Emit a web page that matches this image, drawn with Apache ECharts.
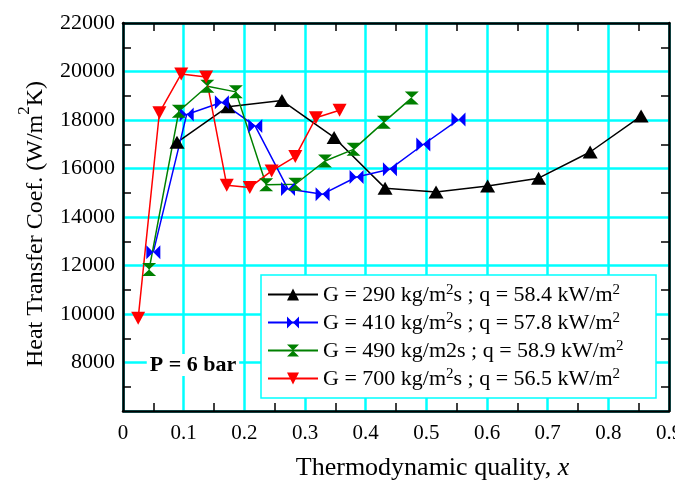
<!DOCTYPE html>
<html>
<head>
<meta charset="utf-8">
<script src="https://cdn.jsdelivr.net/npm/echarts@6/dist/echarts.min.js"></script>
<style>
  html, body { margin: 0; padding: 0; background: #fff; }
  #main { width: 675px; height: 484px; }
</style>
</head>
<body>
<div id="main"></div>
<script>
// quality x and heat transfer coefficient
var blackX = [0.089, 0.173, 0.262, 0.348, 0.432, 0.516, 0.601, 0.685, 0.770, 0.854];
var blackY = [17080, 18550, 18800, 17280, 15190, 15030, 15280, 15600, 16680, 18160];
var blueX = [0.050, 0.105, 0.163, 0.218, 0.272, 0.329, 0.385, 0.440, 0.495, 0.553];
var blueY = [12550, 18230, 18730, 17750, 15150, 14940, 15650, 15970, 16990, 18020];
var greenX = [0.043, 0.092, 0.139, 0.186, 0.236, 0.284, 0.333, 0.380, 0.430, 0.476];
var greenY = [11830, 18360, 19390, 19160, 15330, 15350, 16310, 16790, 17910, 18910];
var redX = [0.025, 0.060, 0.096, 0.137, 0.171, 0.209, 0.245, 0.284, 0.318, 0.357];
var redY = [9820, 18300, 19900, 19770, 15310, 15220, 15900, 16490, 18090, 18400];

var seriesNames = [
  'G = 290 kg/m2s ; q = 58.4 kW/m2',
  'G = 410 kg/m2s ; q = 57.8 kW/m2',
  'G = 490 kg/m2s ; q = 58.9 kW/m2 ',
  'G = 700 kg/m2s ; q = 56.5 kW/m2'
];
var legendLabels = [
  '{n|G = 290 kg/m}{s|2}{n|s ; q = 58.4 kW/m}{s|2}',
  '{n|G = 410 kg/m}{s|2}{n|s ; q = 57.8 kW/m}{s|2}',
  '{n|G = 490 kg/m2s ; q = 58.9 kW/m}{s|2}',
  '{n|G = 700 kg/m}{s|2}{n|s ; q = 56.5 kW/m}{s|2}'
];
var xTicks = { min: 0, max: 0.9, step: 0.1 };
var yTicks = { min: 6000, max: 22000, step: 2000 };

function pairs(xs, ys) {
  return xs.map(function (x, i) { return [x, ys[i]]; });
}

var font = 'Liberation Serif, Times New Roman, serif';
var bowtie = 'path://M0,0 L5,5 L0,10 Z M10,0 L5,5 L10,10 Z';
var hourglass = 'path://M0,0 L10,0 L5,5 L10,10 L0,10 L5,5 Z';
var downTri = 'path://M0,0 L10,0 L5,9 Z';

var myChart = echarts.init(document.getElementById('main'));

function frameAxis(pos, isX) {
  var ax = {
    type: 'value',
    position: pos,
    min: isX ? xTicks.min : yTicks.min,
    max: isX ? xTicks.max : yTicks.max,
    interval: isX ? xTicks.step : yTicks.step,
    axisLine: { show: true, onZero: false, lineStyle: { color: '#000', width: 2.5 } },
    axisTick: { show: false, inside: true },
    minorTick: { show: true, splitNumber: 2, length: 8, lineStyle: { color: '#000', width: 1.5 } },
    axisLabel: { show: false },
    splitLine: { show: false },
    minorSplitLine: { show: false }
  };
  return ax;
}

var xBottom = frameAxis('bottom', true);
xBottom.axisLabel = {
  show: true, color: '#000', fontFamily: font, fontSize: 21, margin: 12,
  formatter: function (v) { return v === 0 ? '0' : v.toFixed(1); }
};
xBottom.splitLine = { show: true, lineStyle: { color: '#00ffff', width: 2.5 } };
xBottom.name = '{n|Thermodynamic quality, }{i|x}';
xBottom.nameLocation = 'middle';
xBottom.nameGap = 44;
xBottom.nameTextStyle = {
  padding: [0, 0, 0, 73],
  rich: {
    n: { fontFamily: font, fontSize: 26, color: '#000' },
    i: { fontFamily: font, fontSize: 26, color: '#000', fontStyle: 'italic' }
  }
};

var yLeft = frameAxis('left', false);
yLeft.axisLabel = {
  show: true, color: '#000', fontFamily: font, fontSize: 22, margin: 8,
  showMinLabel: false,
  formatter: function (v) { return String(v); }
};
yLeft.splitLine = { show: true, lineStyle: { color: '#00ffff', width: 2.5 } };
yLeft.name = '{n|Heat Transfer Coef. (W/m}{s|2}{n|K)}';
yLeft.nameLocation = 'middle';
yLeft.nameRotate = 90;
yLeft.nameGap = 75;
yLeft.nameTextStyle = {
  padding: [0, 14, 0, 0],
  rich: {
    n: { fontFamily: font, fontSize: 24, color: '#000', lineHeight: 32, verticalAlign: 'bottom' },
    s: { fontFamily: font, fontSize: 17, color: '#000', lineHeight: 32, verticalAlign: 'top' }
  }
};

var xTop = frameAxis('top', true);
var yRight = frameAxis('right', false);

function lineSeries(name, xs, ys, color, symbol, size) {
  return {
    name: name,
    type: 'line',
    xAxisIndex: 0,
    yAxisIndex: 0,
    data: pairs(xs, ys),
    symbol: symbol,
    symbolSize: size,
    showAllSymbol: true,
    lineStyle: { color: color, width: 1.5 },
    itemStyle: { color: color },
    emphasis: { disabled: true },
    z: 5
  };
}

var option = {
  animation: false,
  backgroundColor: '#fff',
  grid: { left: 123, right: 6, top: 23, bottom: 73, containLabel: false, outerBoundsMode: 'none' },
  xAxis: [xBottom, xTop],
  yAxis: [yLeft, yRight],
  legend: {
    orient: 'vertical',
    left: 262,
    top: 278,
    itemWidth: 50,
    itemHeight: 15,
    itemGap: 5,
    z: 10,
    data: seriesNames,
    formatter: function (name) { return legendLabels[seriesNames.indexOf(name)]; },
    textStyle: {
      rich: {
        n: { fontFamily: font, fontSize: 22, color: '#000', lineHeight: 23, verticalAlign: 'bottom' },
        s: { fontFamily: font, fontSize: 15, color: '#000', lineHeight: 23, verticalAlign: 'top' }
      }
    }
  },
  graphic: [
    {
      type: 'rect',
      z: 8,
      shape: { x: 261, y: 275, width: 395, height: 123 },
      style: { fill: '#fff', stroke: '#00ffff', lineWidth: 1.5 }
    },
    {
      type: 'text',
      z: 8,
      x: 193,
      y: 365,
      style: {
        text: 'P = 6 bar',
        fontFamily: font,
        fontSize: 22,
        fontWeight: 'bold',
        fill: '#000',
        align: 'center',
        verticalAlign: 'middle',
        backgroundColor: '#fff',
        padding: [0, 3]
      }
    }
  ],
  series: [
    lineSeries(seriesNames[0], blackX, blackY, '#000000', 'triangle', [15, 13]),
    lineSeries(seriesNames[1], blueX, blueY, '#0000ff', bowtie, [14, 14]),
    lineSeries(seriesNames[2], greenX, greenY, '#008000', hourglass, [14, 13]),
    lineSeries(seriesNames[3], redX, redY, '#ff0000', downTri, [14, 13])
  ]
};

myChart.setOption(option);
window.addEventListener('resize', myChart.resize);
</script>
</body>
</html>
